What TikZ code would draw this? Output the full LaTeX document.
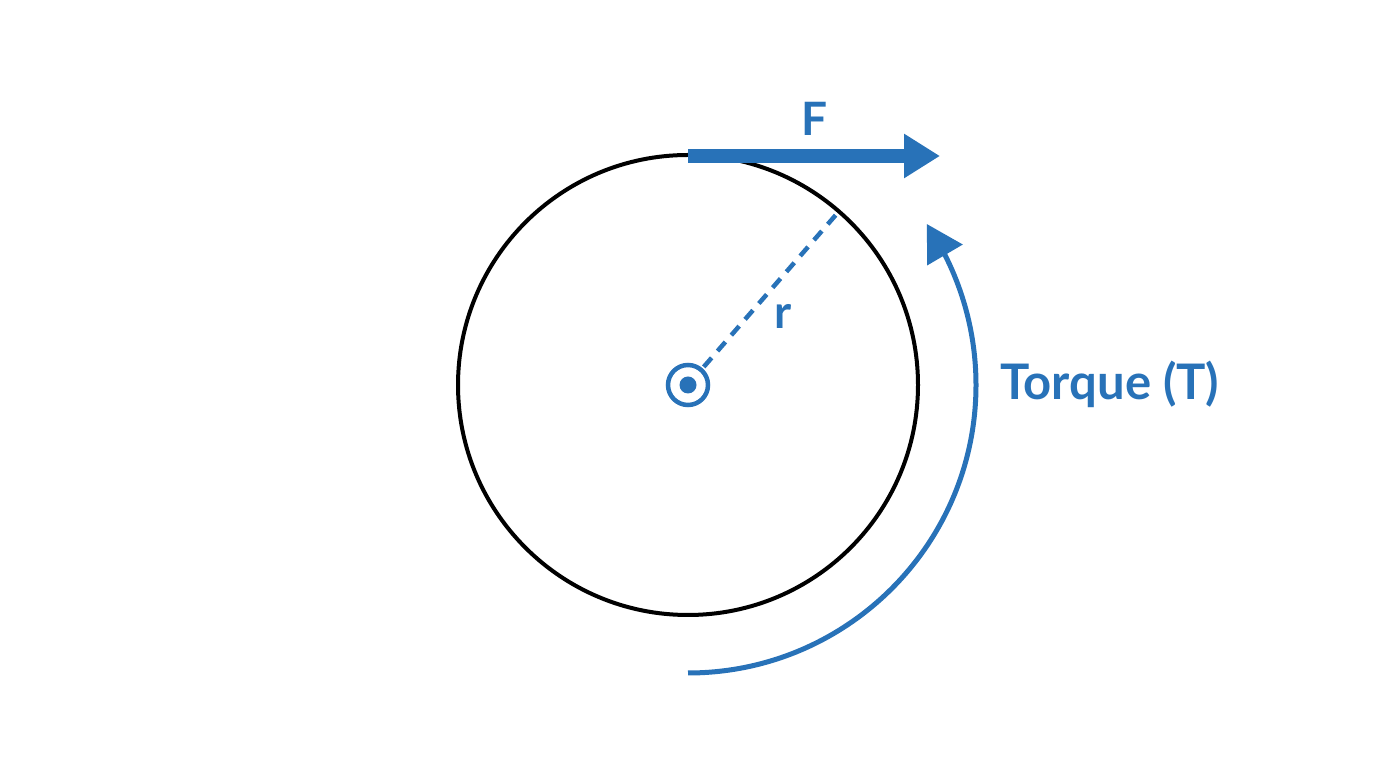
\documentclass[tikz,border=0pt]{standalone}
\usepackage{fontspec}
\setmainfont{Lato}
\usetikzlibrary{arrows.meta,bending}
\definecolor{tblue}{RGB}{40,114,184}
\tikzset{
  rim/.style={draw=black,line width=4pt},
  force/.style={draw=tblue,line width=14pt,-{Triangle[length=36pt,width=42pt]}},
  radius line/.style={draw=tblue,line width=4.5pt,dash pattern=on 12pt off 9pt},
  torque/.style={draw=tblue,line width=5pt,-{Triangle[length=36pt,width=40pt,flex]}},
  lbl/.style={text=tblue,font=\bfseries\fontsize{46}{50}\selectfont,inner sep=0pt},
}
\begin{document}
\begin{tikzpicture}[x=1pt,y=1pt]
\useasboundingbox (0,0) rectangle (1376,768);
\coordinate (C) at (688,383);
\node[rim,circle,minimum size=460pt,inner sep=0pt,fill=none] (wheel) at (C) {};
% axle symbol
\node[circle,draw=tblue,line width=4.5pt,minimum size=40pt,inner sep=0pt] (axle) at (C) {};
\fill[tblue] (C) circle[radius=8.5pt];
% radius
\path (C) ++(49:24) coordinate (rs);
\path (C) ++(49:230) coordinate (re);
\draw[radius line] (rs) -- (re);
\node[lbl] (rlab) at (783,452) {r};
% force
\coordinate (fs) at (688,612);
\coordinate (fe) at (940,612);
\draw[force] (fs) -- (fe);
\node[lbl] (flab) at (815,649) {F};
% torque arc
\path (C) ++(-90:288) coordinate (ts);
\draw[torque] (ts) arc[start angle=-90,end angle=34,radius=288];
\node[lbl,anchor=west,font=\bfseries\fontsize{49}{53}\selectfont] (tlab) at (1000,384) {Torque (T)};
\end{tikzpicture}
\end{document}
